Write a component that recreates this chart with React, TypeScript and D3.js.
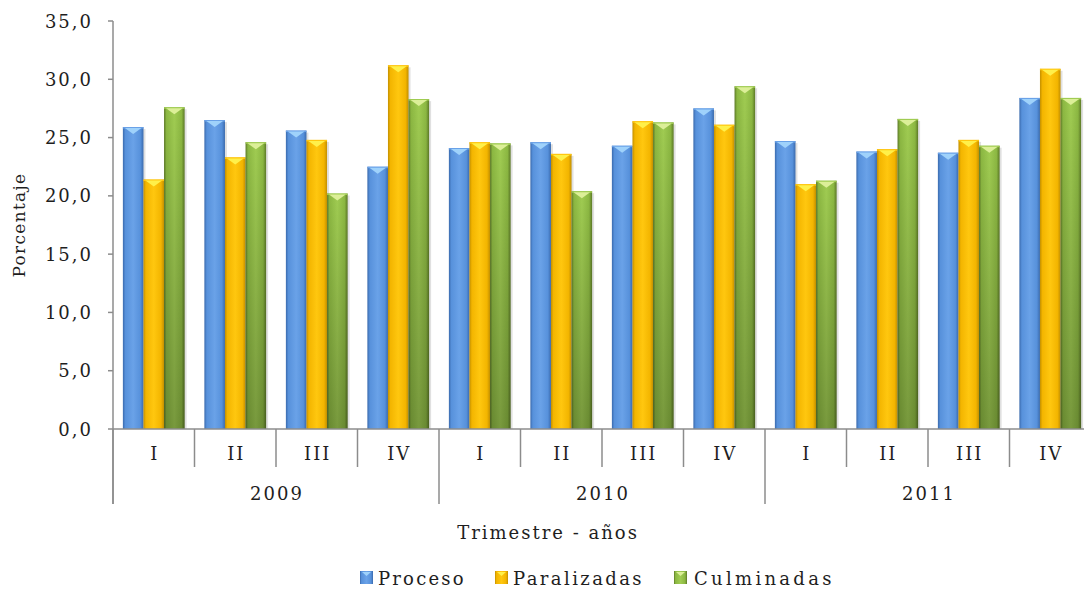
import React from "react";
import * as d3 from "d3";

const quarters = ["I", "II", "III", "IV", "I", "II", "III", "IV", "I", "II", "III", "IV"];
const years = ["2009", "2010", "2011"];
const seriesNames = ["Proceso", "Paralizadas", "Culminadas"];
const proceso = [25.9, 26.5, 25.6, 22.5, 24.1, 24.6, 24.3, 27.5, 24.7, 23.8, 23.7, 28.4];
const paralizadas = [21.4, 23.3, 24.8, 31.2, 24.6, 23.6, 26.4, 26.1, 21.0, 24.0, 24.8, 30.9];
const culminadas = [27.6, 24.6, 20.2, 28.3, 24.5, 20.4, 26.3, 29.4, 21.3, 26.6, 24.3, 28.4];
const yTicks = [0, 5, 10, 15, 20, 25, 30, 35];

const W = 1084;
const H = 589;
const left = 113;
const right = 1091;
const top = 21;
const bottom = 429;
const FONT = "'DejaVu Serif', serif";
const FS = 18;
const LS = 2;

const palettes = [
  { dark: "#3a6aad", main: "#5791db", light: "#6aa2e8", tri: "#9fd2fb", bottomShade: 0.0 },
  { dark: "#c28f00", main: "#f3b500", light: "#ffc70f", tri: "#fff04a", bottomShade: 0.0 },
  { dark: "#5d7a27", main: "#8cb842", light: "#a0cc52", tri: "#dcef98", bottomShade: 0.25 },
];

export default function App() {
  const values = [proceso, paralizadas, culminadas];
  const idx = quarters.map((_, i) => String(i));
  const x0 = d3.scaleBand<string>().domain(idx).range([left, right]).paddingInner(0).paddingOuter(0);
  const x1 = d3
    .scaleBand<string>()
    .domain(seriesNames)
    .range([0, x0.bandwidth()])
    .paddingInner(0)
    .paddingOuter(0.48);
  const y = d3.scaleLinear().domain([0, 35]).range([bottom, top]);
  const bw = x1.bandwidth();
  const fmt = (v: number) => v.toFixed(1).replace(".", ",");
  const axisColor = "#8c8c8c";
  const yearW = x0.bandwidth() * 4;
  const textProps = {
    fontFamily: FONT,
    fontSize: FS,
    letterSpacing: LS,
    fill: "#1e1e1e",
    dominantBaseline: "central" as const,
  };

  return (
    <svg width={W} height={H} style={{ position: "absolute", left: 0, top: 0, background: "#fff" }}>
      <defs>
        {palettes.map((p, i) => (
          <linearGradient key={i} id={`g${i}`} x1="0" x2="1" y1="0" y2="0">
            <stop offset="0" stopColor={p.dark} />
            <stop offset="0.12" stopColor={p.main} />
            <stop offset="0.5" stopColor={p.light} />
            <stop offset="0.85" stopColor={p.main} />
            <stop offset="1" stopColor={p.dark} />
          </linearGradient>
        ))}
        {palettes.map((p, i) => (
          <linearGradient key={`v${i}`} id={`v${i}`} x1="0" x2="0" y1="0" y2="1">
            <stop offset="0" stopColor="#000" stopOpacity={0} />
            <stop offset="1" stopColor="#000" stopOpacity={p.bottomShade} />
          </linearGradient>
        ))}
      </defs>

      {/* bars */}
      {values.map((vals, s) =>
        vals.map((v, i) => {
          const bx = (x0(String(i)) as number) + (x1(seriesNames[s]) as number);
          const by = y(v);
          const h = bottom - by;
          const p = palettes[s];
          return (
            <g key={`${s}-${i}`}>
              <rect x={bx + 2} y={by + 2} width={bw} height={h - 2} fill="#000" opacity={0.12} />
              <rect x={bx} y={by} width={bw} height={h} fill={`url(#g${s})`} />
              <rect x={bx} y={by} width={bw} height={h} fill={`url(#v${s})`} />
              <rect x={bx} y={by} width={bw} height={1.5} fill={p.light} />
              <path
                d={`M${bx + 2},${by + 1} L${bx + bw - 2},${by + 1} L${bx + bw / 2},${by + 7} Z`}
                fill={p.tri}
              />
            </g>
          );
        })
      )}

      {/* y axis */}
      <line x1={left} x2={left} y1={top} y2={504} stroke={axisColor} strokeWidth={1.5} />
      {yTicks.map((t) => (
        <g key={t}>
          <line x1={left - 5} x2={left} y1={y(t)} y2={y(t)} stroke={axisColor} strokeWidth={1.5} />
          <text x={93} y={y(t)} textAnchor="end" {...textProps}>
            {fmt(t)}
          </text>
        </g>
      ))}
      <text
        transform={`translate(19,225) rotate(-90)`}
        textAnchor="middle"
        {...textProps}
        fontSize={17}
        letterSpacing={1.3}
      >
        Porcentaje
      </text>

      {/* x axis */}
      <line x1={left} x2={right} y1={bottom} y2={bottom} stroke={axisColor} strokeWidth={1.5} />
      {quarters.map((q, i) => {
        const bx = x0(String(i)) as number;
        const isYear = i % 4 === 0;
        return (
          <g key={i}>
            <line x1={bx} x2={bx} y1={bottom} y2={isYear ? 504 : 467} stroke={axisColor} strokeWidth={1.5} />
            <text x={bx + x0.bandwidth() / 2 + 1} y={453} textAnchor="middle" {...textProps}>
              {q}
            </text>
          </g>
        );
      })}
      <line x1={right} x2={right} y1={bottom} y2={504} stroke={axisColor} strokeWidth={1.5} />
      {years.map((yr, k) => (
        <text key={yr} x={left + yearW * k + yearW / 2 + 1} y={493} textAnchor="middle" {...textProps}>
          {yr}
        </text>
      ))}
      <text x={548} y={532} textAnchor="middle" {...textProps}>
        Trimestre - años
      </text>

      {/* legend */}
      {[
        { sq: 360, tx: 378, ls: 2.2 },
        { sq: 495, tx: 513, ls: 2.4 },
        { sq: 674, tx: 694, ls: 3.3 },
      ].map((l, s) => (
        <g key={s}>
          <rect x={l.sq} y={571} width={13} height={13} fill={`url(#g${s})`} />
          <path d={`M${l.sq + 2},${572} L${l.sq + 11},${572} L${l.sq + 6.5},${576} Z`} fill={palettes[s].tri} />
          <text x={l.tx} y={578} {...textProps} letterSpacing={l.ls}>
            {seriesNames[s]}
          </text>
        </g>
      ))}
    </svg>
  );
}
